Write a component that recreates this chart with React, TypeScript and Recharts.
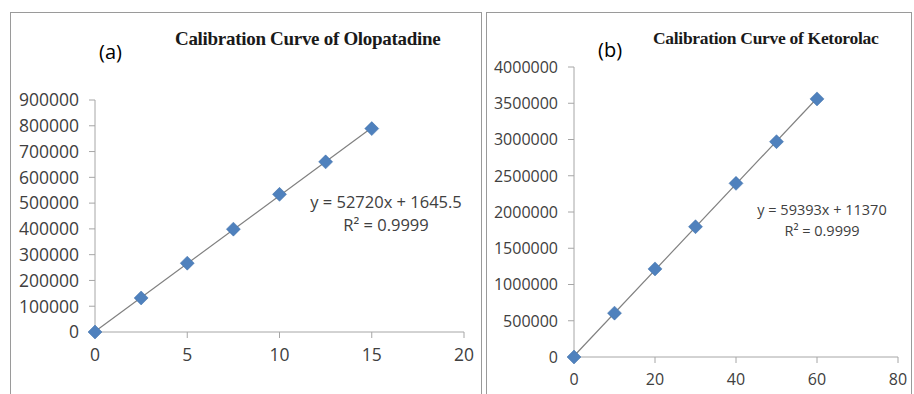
import React from 'react';
import { ScatterChart, Scatter, XAxis, YAxis } from 'recharts';

// Olopatadine (a)
const oloConc = [0, 2.5, 5, 7.5, 10, 12.5, 15];
const oloArea = [0, 132000, 267000, 399000, 534000, 660000, 789000];
const oloXTicks = [0, 5, 10, 15, 20];
const oloYTicks = [0, 100000, 200000, 300000, 400000, 500000, 600000, 700000, 800000, 900000];

// Ketorolac (b)
const ketoConc = [0, 10, 20, 30, 40, 50, 60];
const ketoArea = [0, 605000, 1215000, 1797000, 2395000, 2970000, 3560000];
const ketoXTicks = [0, 20, 40, 60, 80];
const ketoYTicks = [0, 500000, 1000000, 1500000, 2000000, 2500000, 3000000, 3500000, 4000000];

const oloData = oloConc.map((x, i) => ({ x, y: oloArea[i] }));
const ketoData = ketoConc.map((x, i) => ({ x, y: ketoArea[i] }));

const FONT = '"Open Sans", Lato, sans-serif';
const AXIS = '#a6a6a6';
const LABEL = '#404040';

// Excel-style square diamond marker
const Diamond = (props: any) => {
  const { cx, cy } = props;
  const r = 7;
  return (
    <polygon
      points={`${cx},${cy - r} ${cx + r},${cy} ${cx},${cy + r} ${cx - r},${cy}`}
      fill="#4f81bd"
      stroke="#3f6fa8"
      strokeWidth={0.5}
    />
  );
};

const textStyle: React.CSSProperties = {
  position: 'absolute',
  whiteSpace: 'nowrap',
  lineHeight: 1,
};

const Panel = ({
  left, width, height, data, xTicks, yTicks, xMax, yMax, margin, fontSize,
}: any) => {
  const xTick = (p: any) => (
    <text x={p.x} y={p.y} dy="0.71em" textAnchor="middle" fill={LABEL} fontSize={fontSize} fontFamily={FONT}>
      {p.payload.value}
    </text>
  );
  const yTick = (p: any) => (
    <text x={p.x} y={p.y} dy="0.36em" textAnchor="end" fill={LABEL} fontSize={fontSize} fontFamily={FONT}>
      {p.payload.value}
    </text>
  );
  return (
    <div style={{ position: 'absolute', left, top: 12 }}>
      <ScatterChart width={width} height={height} margin={margin}>
        <XAxis
          type="number"
          dataKey="x"
          domain={[0, xMax]}
          ticks={xTicks}
          interval={0}
          stroke={AXIS}
          tick={xTick}
          tickSize={6}
          tickMargin={11}
          height={30}
        />
        <YAxis
          type="number"
          dataKey="y"
          domain={[0, yMax]}
          ticks={yTicks}
          interval={0}
          stroke={AXIS}
          tick={yTick}
          tickSize={6}
          tickMargin={10}
          width={80}
        />
        <Scatter
          data={data}
          line={{ stroke: '#808080', strokeWidth: 1.2 }}
          lineType="fitting"
          shape={Diamond}
          isAnimationActive={false}
        />
      </ScatterChart>
    </div>
  );
};

export default function App() {
  return (
    <div style={{ position: 'absolute', left: 0, top: 0, width: 914, height: 394, background: '#fff', overflow: 'hidden', fontFamily: FONT }}>
      {/* panel frames */}
      <div style={{ position: 'absolute', left: 10, top: 12, width: 472, height: 400, border: '1.5px solid #9a9a9a', boxSizing: 'border-box' }} />
      <div style={{ position: 'absolute', left: 486, top: 12, width: 426, height: 400, border: '1.5px solid #9a9a9a', boxSizing: 'border-box' }} />

      <Panel
        left={10}
        width={472}
        height={382}
        data={oloData}
        xTicks={oloXTicks}
        yTicks={oloYTicks}
        xMax={20}
        yMax={900000}
        fontSize={17.5}
        margin={{ top: 88, right: 18, left: 5, bottom: 32 }}
      />
      <Panel
        left={486}
        width={426}
        height={382}
        data={ketoData}
        xTicks={ketoXTicks}
        yTicks={ketoYTicks}
        xMax={80}
        yMax={4000000}
        fontSize={16}
        margin={{ top: 55, right: 14, left: 8, bottom: 7 }}
      />

      {/* titles and labels */}
      <div style={{ ...textStyle, left: 175, top: 29, fontFamily: '"Liberation Serif", serif', fontWeight: 'bold', fontSize: 19, color: '#1a1a1a', letterSpacing: -0.3 }}>
        Calibration Curve of Olopatadine
      </div>
      <div style={{ ...textStyle, left: 99, top: 42, fontSize: 20, color: '#000' }}>(a)</div>
      <div style={{ ...textStyle, left: 286, width: 200, top: 190, fontSize: 16.5, lineHeight: '23px', textAlign: 'center', color: LABEL }}>
        y = 52720x + 1645.5<br />R² = 0.9999
      </div>

      <div style={{ ...textStyle, left: 653, top: 30, fontFamily: '"Liberation Serif", serif', fontWeight: 'bold', fontSize: 17.5, color: '#1a1a1a', letterSpacing: -0.3 }}>
        Calibration Curve of Ketorolac
      </div>
      <div style={{ ...textStyle, left: 598, top: 40, fontSize: 20, color: '#000' }}>(b)</div>
      <div style={{ ...textStyle, left: 722, width: 200, top: 199, fontSize: 14.5, lineHeight: '21px', textAlign: 'center', color: LABEL }}>
        y = 59393x + 11370<br />R² = 0.9999
      </div>
    </div>
  );
}
